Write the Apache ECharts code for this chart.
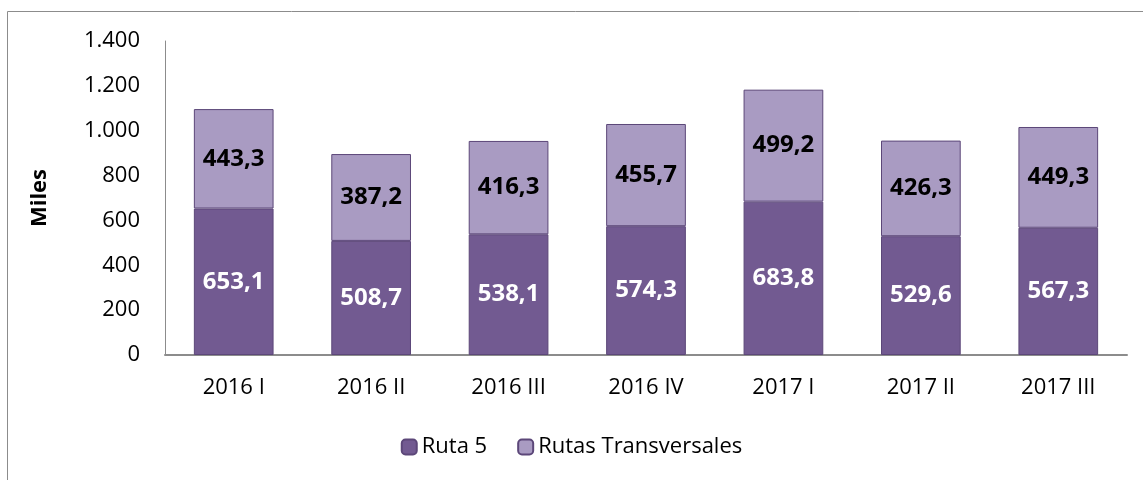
<!DOCTYPE html>
<html><head><meta charset="utf-8">
<script src="https://cdn.jsdelivr.net/npm/echarts@6/dist/echarts.min.js"></script>
<style>html,body{margin:0;padding:0;background:#fff}#c{width:1143px;height:480px}</style>
</head><body><div id="c"></div>
<script>
const categories = ['2016 I','2016 II','2016 III','2016 IV','2017 I','2017 II','2017 III'];
const ruta5 = [653.1, 508.7, 538.1, 574.3, 683.8, 529.6, 567.3];
const transversales = [443.3, 387.2, 416.3, 455.7, 499.2, 426.3, 449.3];
const seriesNames = ['Ruta 5', 'Rutas Transversales'];
const axisTitle = 'Miles';

const font = '"Open Sans", "Liberation Sans", sans-serif';
const fmtDec = v => v.toFixed(1).replace('.', ',');
const fmtTick = v => String(v).replace(/\B(?=(\d{3})+(?!\d))/g, '.');

const chart = echarts.init(document.getElementById('c'));
chart.setOption({
  animation: false,
  textStyle: { fontFamily: font },
  graphic: [
    { type: 'polyline', shape: { points: [[7.5, 480], [7.5, 11.5], [1143, 11.5]] },
      style: { stroke: '#8c8c8c', lineWidth: 1, fill: null } }
  ],
  grid: { left: 165, top: 41, right: 16, bottom: 125 },
  legend: {
    bottom: 17, left: 'center', itemWidth: 15, itemHeight: 15, itemGap: 30,
    textStyle: { fontSize: 22, color: '#000', fontFamily: font },
    data: seriesNames
  },
  xAxis: {
    type: 'category', data: categories,
    axisLine: { lineStyle: { color: '#8c8c8c', width: 2 } },
    axisTick: { show: false },
    axisLabel: { fontSize: 22, color: '#000', margin: 22, fontFamily: font }
  },
  yAxis: {
    type: 'value', min: 0, max: 1400, interval: 200,
    name: axisTitle, nameLocation: 'middle', nameGap: 114, nameRotate: 90,
    nameTextStyle: { fontSize: 22, fontWeight: 'bold', color: '#000', fontFamily: font },
    axisLine: { show: true, lineStyle: { color: '#8c8c8c', width: 1 } },
    axisTick: { show: false },
    splitLine: { show: false },
    axisLabel: { fontSize: 22, color: '#000', margin: 25, formatter: fmtTick, fontFamily: font }
  },
  series: [
    { name: seriesNames[0], type: 'bar', stack: 't', data: ruta5, barWidth: '58%',
      itemStyle: { color: '#725A91', borderColor: '#5C4779', borderWidth: 1 },
      label: { show: true, position: 'inside', formatter: p => fmtDec(p.value),
        color: '#fff', fontWeight: 'bold', fontSize: 24, fontFamily: font } },
    { name: seriesNames[1], type: 'bar', stack: 't', data: transversales, barWidth: '58%',
      itemStyle: { color: '#A99BC2', borderColor: '#5C4779', borderWidth: 1 },
      label: { show: true, position: 'inside', formatter: p => fmtDec(p.value),
        color: '#000', fontWeight: 'bold', fontSize: 24, fontFamily: font } }
  ]
});
</script></body></html>
